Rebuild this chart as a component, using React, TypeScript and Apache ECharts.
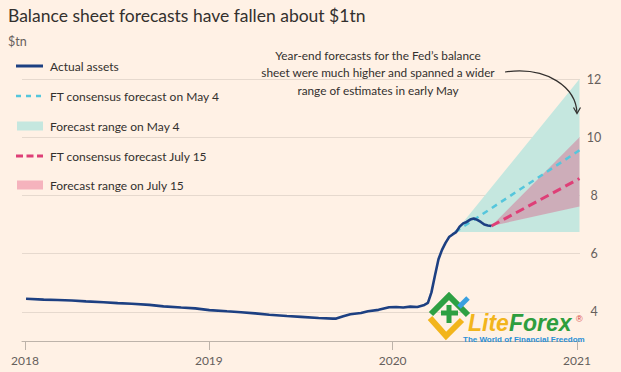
import React, { useEffect, useRef } from 'react';
import * as echarts from 'echarts';

// ---- Data ----
const actualDates = [
  '2018-01-03', '2018-02-07', '2018-03-07', '2018-04-04', '2018-05-02', '2018-06-06',
  '2018-07-04', '2018-08-01', '2018-09-05', '2018-10-03', '2018-11-07', '2018-12-05',
  '2019-01-02', '2019-02-06', '2019-03-06', '2019-04-03', '2019-05-01', '2019-06-05',
  '2019-07-03', '2019-08-07', '2019-09-04', '2019-09-11', '2019-09-25', '2019-10-09',
  '2019-10-30', '2019-11-13', '2019-12-04', '2019-12-25', '2020-01-08', '2020-01-22',
  '2020-02-05', '2020-02-19', '2020-03-04', '2020-03-11', '2020-03-18', '2020-03-25',
  '2020-04-01', '2020-04-08', '2020-04-15', '2020-04-22', '2020-04-29', '2020-05-06',
  '2020-05-13', '2020-05-20', '2020-05-27', '2020-06-03', '2020-06-10', '2020-06-17',
  '2020-06-24', '2020-07-01', '2020-07-08', '2020-07-15',
];
const actualValues = [
  4.45, 4.42, 4.41, 4.39, 4.36, 4.33,
  4.30, 4.28, 4.24, 4.19, 4.15, 4.12,
  4.06, 4.02, 3.99, 3.95, 3.90, 3.86,
  3.83, 3.79, 3.77, 3.77, 3.85, 3.92,
  3.96, 4.02, 4.07, 4.16, 4.17, 4.15,
  4.18, 4.17, 4.24, 4.31, 4.67, 5.25,
  5.81, 6.13, 6.37, 6.57, 6.66, 6.74,
  6.93, 7.04, 7.09, 7.17, 7.21, 7.16,
  7.09, 7.00, 6.97, 6.95,
];

const mayDates = ['2020-05-04', '2021-01-06'];
const mayRangeLow = [6.74, 6.74];
const mayRangeHigh = [6.74, 12.0];
const mayForecast = [6.74, 9.55];

const julyDates = ['2020-07-15', '2021-01-06'];
const julyRangeLow = [6.95, 7.62];
const julyRangeHigh = [6.95, 10.0];
const julyForecast = [6.95, 8.58];

const yearTicks = ['2018-01-01', '2019-01-01', '2020-01-01', '2021-01-01'];
const yTicks = [4, 6, 8, 10, 12];

const legendLabels = [
  'Actual assets',
  'FT consensus forecast on May 4',
  'Forecast range on May 4',
  'FT consensus forecast July 15',
  'Forecast range on July 15',
];

const annotationLines = [
  'Year-end forecasts for the Fed\u2019s balance',
  'sheet were much higher and spanned a wider',
  'range of estimates in early May',
];

// ---- Styles ----
const BG = '#fff1e5';
const NAVY = '#1d4082';
const CYAN = '#55c6dc';
const CYAN_AREA = '#c5e7df';
const PINK = '#de3f77';
const PINK_AREA = 'rgba(225,50,105,0.32)';
const TEXT = '#33302e';
const GREY = '#66605c';
const FONT = 'Lato, "Open Sans", sans-serif';

const ts = (d: string) => {
  const [y, m, day] = d.split('-').map(Number);
  return Date.UTC(y, m - 1, day);
};

function rangeSeries(dates: string[], low: number[], high: number[], fill: string) {
  return {
    type: 'custom',
    silent: true,
    renderItem: (_params: any, api: any) => {
      const pts: number[][] = [];
      for (let i = 0; i < dates.length; i++) pts.push(api.coord([ts(dates[i]), high[i]]));
      for (let i = dates.length - 1; i >= 0; i--) pts.push(api.coord([ts(dates[i]), low[i]]));
      return { type: 'polygon', shape: { points: pts }, style: { fill } };
    },
    data: [[ts(dates[0]), low[0]]],
  };
}

export default function App() {
  const ref = useRef<HTMLDivElement>(null);

  useEffect(() => {
    if (!ref.current) return;
    const chart = echarts.init(ref.current, undefined, { renderer: 'svg' });

    const legendY = [66, 96, 126, 156, 185];
    const legendGraphics: any[] = [];
    legendGraphics.push({ type: 'line', shape: { x1: 16, y1: legendY[0], x2: 43, y2: legendY[0] }, style: { stroke: NAVY, lineWidth: 3 } });
    legendGraphics.push({ type: 'line', shape: { x1: 16, y1: legendY[1], x2: 43, y2: legendY[1] }, style: { stroke: CYAN, lineWidth: 2.5, lineDash: [5, 5] } });
    legendGraphics.push({ type: 'rect', shape: { x: 17, y: legendY[2] - 4.5, width: 26, height: 9 }, style: { fill: CYAN_AREA } });
    legendGraphics.push({ type: 'line', shape: { x1: 16, y1: legendY[3], x2: 43, y2: legendY[3] }, style: { stroke: PINK, lineWidth: 3, lineDash: [7, 3.5] } });
    legendGraphics.push({ type: 'rect', shape: { x: 17, y: legendY[4] - 4.5, width: 26, height: 9 }, style: { fill: PINK_AREA } });
    legendLabels.forEach((t, i) => {
      legendGraphics.push({
        type: 'text', x: 50, y: legendY[i],
        style: { text: t, fill: TEXT, font: `12px ${FONT}`, align: 'left', verticalAlign: 'middle' },
      });
    });

    const annotation = annotationLines.map((t, i) => ({
      type: 'text', x: 378, y: 55 + i * 17.5,
      style: { text: t, fill: TEXT, font: `11.8px ${FONT}`, align: 'center', verticalAlign: 'middle' },
    }));

    const logoFont = '"Liberation Sans", Arial, sans-serif';
    const logo: any[] = [
      { type: 'polyline', z: 100, shape: { points: [[430, 318], [446, 336], [462, 320]] }, style: { stroke: '#f2b51c', lineWidth: 6, fill: null } },
      { type: 'polyline', z: 100, shape: { points: [[431, 314], [449, 296], [468, 315]] }, style: { stroke: '#2ea043', lineWidth: 6, fill: null } },
      { type: 'polyline', z: 100, shape: { points: [[441, 313], [458, 313]] }, style: { stroke: '#2ea043', lineWidth: 5 } },
      { type: 'polyline', z: 100, shape: { points: [[449, 305], [449, 323]] }, style: { stroke: '#2ea043', lineWidth: 5 } },
      { type: 'polyline', z: 100, shape: { points: [[459, 307], [468, 298]] }, style: { stroke: '#3aa0e0', lineWidth: 5 } },
      { type: 'text', z: 100, x: 468, y: 334, style: { text: 'Lite', fill: '#f2b51c', font: `italic bold 23px ${logoFont}`, align: 'left', verticalAlign: 'bottom' } },
      { type: 'text', z: 100, x: 509, y: 334, style: { text: 'Forex', fill: '#2e9e3e', font: `italic bold 23px ${logoFont}`, align: 'left', verticalAlign: 'bottom' } },
      { type: 'text', z: 100, x: 576, y: 319, style: { text: '\u00ae', fill: '#d9403a', font: `9px ${logoFont}`, align: 'left', verticalAlign: 'middle' } },
      { type: 'text', z: 100, x: 463, y: 339, style: { text: 'The World of Financial Freedom', fill: '#2a8fd6', font: `bold 8px ${logoFont}`, align: 'left', verticalAlign: 'middle' } },
    ];

    const option: any = {
      animation: false,
      backgroundColor: BG,
      grid: { left: 22, right: 41, top: 79, bottom: 31 },
      xAxis: {
        type: 'value',
        min: ts('2017-12-26'),
        max: ts('2021-01-07'),
        axisLine: { show: true, lineStyle: { color: '#bdb3aa', width: 1 } },
        axisTick: {
          show: true, length: 9, lineStyle: { color: '#bdb3aa' },
          customValues: yearTicks.map(ts),
        },
        axisLabel: {
          customValues: yearTicks.map(ts),
          formatter: (v: number) => String(new Date(v).getUTCFullYear()),
          color: GREY, fontSize: 12, fontFamily: FONT, margin: 13,
        },
        splitLine: { show: false },
      },
      yAxis: {
        type: 'value',
        position: 'right',
        min: 3,
        max: 12,
        axisLine: { show: false },
        axisTick: { show: false, customValues: yTicks },
        axisLabel: {
          customValues: yTicks, color: GREY, fontSize: 12.5, fontFamily: FONT,
          align: 'center', margin: 14,
        },
        splitLine: { show: true, lineStyle: { color: '#e6d9ce', width: 1 } },
      },
      series: [
        rangeSeries(mayDates, mayRangeLow, mayRangeHigh, CYAN_AREA),
        rangeSeries(julyDates, julyRangeLow, julyRangeHigh, PINK_AREA),
        {
          type: 'line', silent: true, showSymbol: false,
          data: mayDates.map((d, i) => [ts(d), mayForecast[i]]),
          lineStyle: { color: CYAN, width: 2.5, type: [6, 5] },
        },
        {
          type: 'line', silent: true, showSymbol: false,
          data: julyDates.map((d, i) => [ts(d), julyForecast[i]]),
          lineStyle: { color: PINK, width: 3, type: [9, 5] },
        },
        {
          type: 'line', silent: true, showSymbol: false,
          data: actualDates.map((d, i) => [ts(d), actualValues[i]]),
          lineStyle: { color: NAVY, width: 2.6 },
        },
      ],
      graphic: [
        {
          type: 'text', x: 8, y: 15,
          style: { text: 'Balance sheet forecasts have fallen about $1tn', fill: TEXT, font: `17.5px ${FONT}`, align: 'left', verticalAlign: 'middle' },
        },
        {
          type: 'text', x: 8, y: 41,
          style: { text: '$tn', fill: GREY, font: `12.5px ${FONT}`, align: 'left', verticalAlign: 'middle' },
        },
        ...legendGraphics,
        ...annotation,
        {
          type: 'bezierCurve', z: 100,
          shape: { x1: 505, y1: 72, cpx1: 548, cpy1: 66, cpx2: 576, cpy2: 88, x2: 577, y2: 113 },
          style: { stroke: TEXT, lineWidth: 1.2, fill: null },
        },
        {
          type: 'polyline', z: 100,
          shape: { points: [[573.5, 107.5], [577, 113.5], [580.5, 107.5]] },
          style: { stroke: TEXT, lineWidth: 1.2, fill: null },
        },
        ...logo,
      ],
    };

    chart.setOption(option);
    return () => chart.dispose();
  }, []);

  return <div ref={ref} style={{ position: 'fixed', left: 0, top: 0, width: 621, height: 372 }} />;
}
